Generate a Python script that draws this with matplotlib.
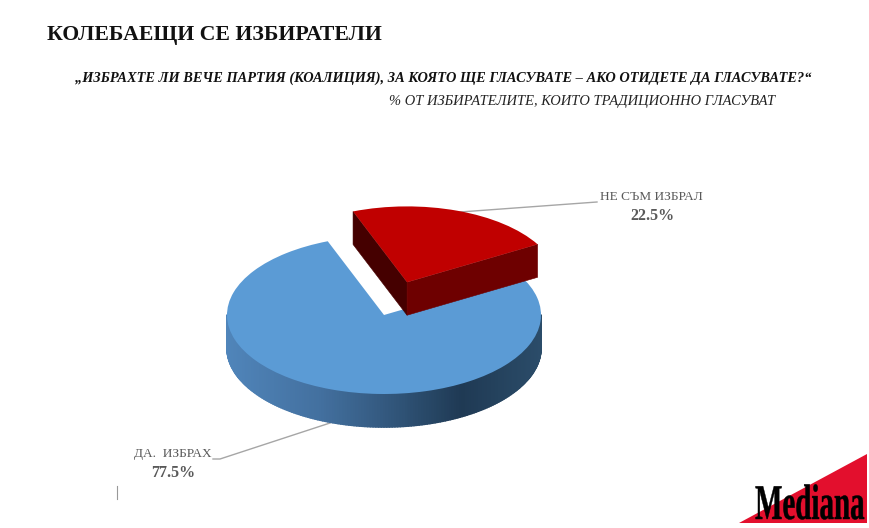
"""Undecided voters: exploded 3D-style pie with survey headings and logo."""

import numpy as np
import matplotlib
matplotlib.use("Agg")
import matplotlib.pyplot as plt
from matplotlib.collections import PolyCollection
from matplotlib.patches import Polygon
from matplotlib.patheffects import AbstractPathEffect
from matplotlib.transforms import Affine2D

plt.rcParams["font.family"] = ["Liberation Serif", "DejaVu Serif"]

W, H = 870, 528

TITLE = "КОЛЕБАЕЩИ СЕ ИЗБИРАТЕЛИ"
QUESTION = "„ИЗБРАХТЕ ЛИ ВЕЧЕ ПАРТИЯ (КОАЛИЦИЯ), ЗА КОЯТО ЩЕ ГЛАСУВАТЕ – АКО ОТИДЕТЕ ДА ГЛАСУВАТЕ?“"
BASE = "% ОТ ИЗБИРАТЕЛИТЕ, КОИТО ТРАДИЦИОННО ГЛАСУВАТ"
LOGO = "Mediana"

categories = ["НЕ СЪМ ИЗБРАЛ", "ДА.  ИЗБРАХ"]
values = [22.5, 77.5]
explode = [0.44, 0.0]

RED = "#c00000"
BLUE = "#5b9bd5"
LEFT_WALL = "#450000"
RIGHT_WALL = "#6e0000"
LABEL_GREY = "#595959"
LEADER_GREY = "#a6a6a6"

# pie geometry on the page, in pixels
CX, CY = 384, 315
RX, RY = 157, 79
DEPTH = 33 / RY
RED_RADIUS = 0.96

# colour of the blue rim from its left end to its right end
RIM_POS = [0.0, 0.3, 0.5, 0.75, 1.0]
RIM_RGB = np.array([
    [0x50, 0x85, 0xba],
    [0x43, 0x70, 0x9f],
    [0x34, 0x5a, 0x80],
    [0x1f, 0x3a, 0x54],
    [0x2b, 0x4c, 0x69],
]) / 255


class Wordmark(AbstractPathEffect):
    """Rescale text about a fixed display point and thicken its strokes."""

    def __init__(self, sx, sy, anchor, stroke):
        super().__init__()
        self.sx = sx
        self.sy = sy
        self.anchor = anchor
        self.stroke = stroke

    def draw_path(self, renderer, gc, tpath, affine, rgbFace=None):
        ax_, ay_ = self.anchor
        scale = Affine2D().translate(-ax_, -ay_).scale(self.sx, self.sy).translate(ax_, ay_)
        gc0 = renderer.new_gc()
        gc0.copy_properties(gc)
        gc0.set_linewidth(self.stroke)
        gc0.set_foreground("black")
        renderer.draw_path(gc0, tpath, affine + scale, rgbFace)
        gc0.restore()


def rim_colour(x):
    t = (x + 1) / 2
    return [np.interp(t, RIM_POS, RIM_RGB[:, i]) for i in range(3)]


def draw_rim(ax, center, theta1, theta2, zorder):
    """Curved outer wall of a slice, one small quad per step."""
    angles = np.radians(np.arange(theta1, theta2 + 1, 1.0))
    xs = center[0] + np.cos(angles)
    ys = center[1] + np.sin(angles)
    quads, colours = [], []
    for i in range(len(angles) - 1):
        quads.append([(xs[i], ys[i]), (xs[i + 1], ys[i + 1]),
                      (xs[i + 1], ys[i + 1] - DEPTH), (xs[i], ys[i] - DEPTH)])
        colours.append(rim_colour((xs[i] + xs[i + 1]) / 2 - center[0]))
    ax.add_collection(PolyCollection(quads, facecolors=colours, edgecolors=colours,
                                     linewidths=1.2, zorder=zorder))


def draw_cut_wall(ax, center, radius, theta, colour, zorder):
    """Flat wall along a slice's straight edge."""
    a = np.radians(theta)
    x0, y0 = center
    x1, y1 = x0 + radius * np.cos(a), y0 + radius * np.sin(a)
    ax.add_patch(Polygon([(x0, y0), (x1, y1), (x1, y1 - DEPTH), (x0, y0 - DEPTH)],
                         closed=True, facecolor=colour, edgecolor=colour,
                         linewidth=0.4, zorder=zorder))


fig = plt.figure(figsize=(W / 100, H / 100), dpi=100, facecolor="white")

page = fig.add_axes([0, 0, 1, 1], zorder=0)
page.set_xlim(0, W)
page.set_ylim(H, 0)
page.axis("off")

# leader lines sit behind the pie
page.plot([460, 597], [212, 202], color=LEADER_GREY, lw=1.0)
page.plot([213, 220, 330], [459, 459, 423], color=LEADER_GREY, lw=1.0)
page.plot([117, 117], [486, 499], color="#999999", lw=0.8)

# pie axes: two units wide each way around the centre, squashed to an ellipse
LIM = 2.0
pie_ax = fig.add_axes([(CX - LIM * RX) / W, 1 - (CY + LIM * RY) / H,
                       2 * LIM * RX / W, 2 * LIM * RY / H], zorder=1)
wedges, _ = pie_ax.pie(values, explode=explode, colors=[RED, BLUE], startangle=30)
pie_ax.set_aspect("auto")
pie_ax.set_xlim(-LIM, LIM)
pie_ax.set_ylim(-LIM, LIM)
pie_ax.patch.set_alpha(0)

red, blue = wedges
red.set_radius(RED_RADIUS)
blue.set_zorder(3)
red.set_zorder(6)

draw_rim(pie_ax, blue.center, max(blue.theta1, 180), min(blue.theta2, 360), zorder=2)
draw_cut_wall(pie_ax, red.center, red.r, red.theta2, LEFT_WALL, zorder=4)
draw_cut_wall(pie_ax, red.center, red.r, red.theta1, RIGHT_WALL, zorder=5)

# headings
page.text(47, 35, TITLE, fontsize=15.7, fontweight="bold", color="#111111", va="center")
page.text(75, 78, QUESTION, fontsize=10.36, fontweight="bold", fontstyle="italic",
          color="#111111", va="center")
page.text(389, 101, BASE, fontsize=10.45, fontstyle="italic", color="#222222", va="center")

# slice labels
page.text(651, 197, categories[0], fontsize=9.5, color=LABEL_GREY, ha="center", va="center")
page.text(652, 216, f"{values[0]}%", fontsize=11.5, fontweight="bold", color=LABEL_GREY,
          ha="center", va="center")
page.text(173, 454, categories[1], fontsize=9.5, color=LABEL_GREY, ha="center", va="center")
page.text(173, 473, f"{values[1]}%", fontsize=11.5, fontweight="bold", color=LABEL_GREY,
          ha="center", va="center")

# logo: red triangle with the tall condensed wordmark across it
page.add_patch(Polygon([(739, 523), (867, 454), (867, 523)], closed=True,
                       facecolor="#e30f2d", edgecolor="none"))
logo = page.text(865, 519, LOGO, fontsize=24, fontweight="bold", color="black",
                 ha="right", va="baseline")
logo.set_path_effects([Wordmark(0.87, 1.5, (865, H - 519), 0.3)])

fig.savefig("out.png", dpi=100)
